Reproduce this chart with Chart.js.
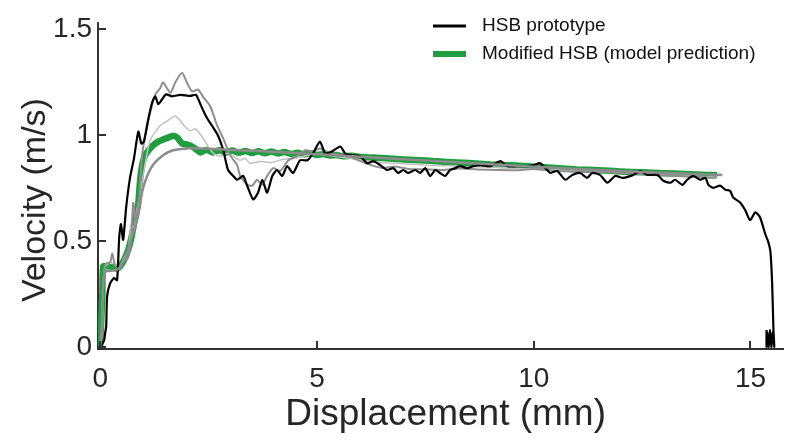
<!DOCTYPE html>
<html>
<head>
<meta charset="utf-8">
<script src="https://cdn.jsdelivr.net/npm/chart.js@4.4.1/dist/chart.umd.min.js"></script>
<style>
  html, body { margin: 0; padding: 0; background: #fff; }
</style>
</head>
<body>
<canvas id="velocity" width="785" height="440"></canvas>
<script>
// axis ticks
const xTicks = [0, 5, 10, 15]
const xTickLabels = ['0', '5', '10', '15']
const yTicks = [0, 0.5, 1, 1.5]
const yTickLabels = ['0', '0.5', '1', '1.5']

// [displacement (mm), velocity (m/s)]
const hsbPrototype = [[0,0],[0.09,0.03],[0.115,0.065],[0.14,0.1],[0.16,0.24],[0.23,0.30],[0.32,0.325],[0.39,0.315],[0.44,0.52],[0.48,0.58],[0.53,0.505],[0.60,0.66],[0.69,0.80],[0.78,0.89],[0.88,1.016],[0.95,0.96],[1.01,0.97],[1.11,1.076],[1.20,1.155],[1.27,1.183],[1.34,1.146],[1.43,1.169],[1.52,1.192],[1.66,1.183],[1.85,1.19],[2.08,1.185],[2.21,1.19],[2.31,1.146],[2.45,1.085],[2.58,1.044],[2.72,0.997],[2.84,0.928],[2.95,0.835],[3.07,0.807],[3.16,0.789],[3.30,0.807],[3.39,0.761],[3.53,0.696],[3.64,0.728],[3.74,0.789],[3.85,0.728],[3.97,0.807],[4.08,0.835],[4.20,0.807],[4.31,0.853],[4.45,0.821],[4.61,0.881],[4.78,0.881],[4.91,0.914],[5.07,0.969],[5.19,0.914],[5.35,0.923],[5.54,0.946],[5.65,0.914],[5.81,0.904],[6.00,0.90],[6.16,0.867],[6.30,0.877],[6.46,0.858],[6.62,0.835],[6.76,0.844],[6.87,0.821],[6.99,0.835],[7.10,0.821],[7.27,0.835],[7.38,0.821],[7.50,0.844],[7.61,0.807],[7.73,0.835],[7.84,0.821],[7.96,0.807],[8.07,0.835],[8.19,0.844],[8.30,0.853],[8.47,0.844],[8.60,0.853],[8.77,0.858],[9.00,0.853],[9.23,0.877],[9.39,0.853],[9.62,0.853],[9.85,0.853],[9.99,0.858],[10.15,0.867],[10.31,0.835],[10.38,0.821],[10.54,0.830],[10.73,0.789],[10.89,0.812],[11.07,0.821],[11.23,0.798],[11.35,0.821],[11.53,0.812],[11.70,0.775],[11.88,0.807],[12.06,0.798],[12.30,0.812],[12.46,0.830],[12.62,0.812],[12.85,0.812],[12.99,0.784],[13.15,0.775],[13.26,0.789],[13.43,0.765],[13.54,0.789],[13.68,0.807],[13.84,0.789],[13.96,0.798],[14.03,0.765],[14.14,0.751],[14.30,0.761],[14.42,0.742],[14.53,0.737],[14.60,0.705],[14.76,0.682],[14.88,0.645],[14.99,0.598],[15.11,0.635],[15.22,0.612],[15.34,0.533],[15.41,0.496],[15.46,0.45],[15.50,0.297],[15.53,0.079],[15.55,0],[15.51,0.07],[15.48,0],[15.45,0.08],[15.42,0],[15.39,0.07],[15.37,0],[15.37,0.08]]
const prototypeRun2 = [[0,0],[0.05,0.06],[0.06,0.26],[0.12,0.39],[0.23,0.40],[0.28,0.44],[0.35,0.38],[0.46,0.37],[0.53,0.40],[0.64,0.42],[0.72,0.52],[0.76,0.68],[0.82,0.6],[0.9,0.7],[0.97,0.91],[1.11,1.067],[1.27,1.19],[1.38,1.22],[1.45,1.248],[1.62,1.2],[1.73,1.248],[1.89,1.294],[2.0,1.248],[2.12,1.206],[2.26,1.215],[2.38,1.178],[2.54,1.136],[2.70,1.044],[2.84,0.983],[3.0,0.904],[3.16,0.858],[3.23,0.807],[3.39,0.765],[3.51,0.761],[3.62,0.789],[3.74,0.765],[3.85,0.807],[3.99,0.844],[4.15,0.83],[4.34,0.881],[4.54,0.9],[4.73,0.928],[4.91,0.923],[5.07,0.937],[5.3,0.915],[5.6,0.905],[5.8,0.895],[6.0,0.877],[6.25,0.858],[6.5,0.845],[6.8,0.852],[7.1,0.84],[7.5,0.838],[7.9,0.835],[8.3,0.842],[8.7,0.838],[9.2,0.835],[9.6,0.834],[10.0,0.84],[10.5,0.832],[11.0,0.828],[11.5,0.826],[12.0,0.822],[12.5,0.815],[13.0,0.81],[13.5,0.806],[14.0,0.8],[14.2,0.798]]
const prototypeRun3 = [[0,0],[0.05,0.1],[0.07,0.3],[0.12,0.38],[0.25,0.4],[0.35,0.39],[0.45,0.38],[0.55,0.42],[0.65,0.46],[0.72,0.58],[0.78,0.56],[0.85,0.65],[0.92,0.72],[0.99,0.807],[1.15,0.974],[1.38,1.044],[1.55,1.067],[1.73,1.09],[1.85,1.067],[1.96,1.039],[2.08,1.02],[2.19,1.03],[2.35,0.993],[2.49,0.946],[2.61,0.914],[2.77,0.9],[2.93,0.914],[3.07,0.9],[3.23,0.881],[3.34,0.89],[3.46,0.867],[3.7,0.875],[3.95,0.87],[4.2,0.885],[4.5,0.89],[4.8,0.905],[5.1,0.91],[5.4,0.9],[5.8,0.89],[6.2,0.875],[6.6,0.868],[7.0,0.865],[7.5,0.858],[8.0,0.855],[8.5,0.85],[9.0,0.849],[9.5,0.845],[10.0,0.84],[10.5,0.836],[11.0,0.83],[11.5,0.828],[12.0,0.822],[12.5,0.818],[13.0,0.812],[13.5,0.809],[14.0,0.803],[14.25,0.8]]
const hsbFit = [[0,0],[0.04,0.1],[0.07,0.3],[0.12,0.355],[0.3,0.36],[0.4,0.365],[0.5,0.39],[0.6,0.43],[0.7,0.5],[0.78,0.55],[0.85,0.6],[0.92,0.68],[0.99,0.75],[1.1,0.815],[1.22,0.86],[1.45,0.905],[1.68,0.928],[2.0,0.937],[2.5,0.935],[3.0,0.93],[4.0,0.921],[5.0,0.91],[6.0,0.898],[7.0,0.886],[8.0,0.874],[9.0,0.862],[10.0,0.851],[11.0,0.84],[12.0,0.83],[13.0,0.822],[14.0,0.814],[14.35,0.812]]
const modifiedHsb = [[0,0],[0.05,0.25],[0.07,0.38],[0.18,0.38],[0.30,0.375],[0.39,0.37],[0.46,0.38],[0.55,0.41],[0.65,0.46],[0.72,0.515],[0.78,0.58],[0.83,0.625],[0.88,0.68],[0.92,0.785],[0.97,0.86],[1.04,0.905],[1.13,0.932],[1.22,0.951],[1.34,0.969],[1.45,0.979],[1.57,0.988],[1.68,0.997],[1.78,0.988],[1.89,0.96],[2.01,0.955],[2.12,0.946],[2.24,0.928],[2.31,0.918],[2.45,0.93],[2.6,0.918],[2.75,0.928],[2.9,0.917],[3.05,0.927],[3.2,0.916],[3.35,0.925],[3.5,0.915],[3.65,0.923],[3.8,0.914],[3.95,0.922],[4.1,0.913],[4.25,0.92],[4.4,0.911],[4.55,0.917],[4.7,0.909],[4.85,0.914],[5.0,0.906],[5.15,0.91],[5.3,0.903],[5.45,0.906],[5.6,0.9],[5.8,0.902],[6.0,0.897],[6.5,0.892],[7.0,0.885],[7.5,0.88],[8.0,0.873],[8.5,0.868],[9.0,0.861],[9.5,0.857],[10.0,0.85],[10.5,0.845],[11.0,0.838],[11.5,0.834],[12.0,0.828],[12.5,0.824],[13.0,0.82],[13.5,0.816],[14.0,0.812],[14.23,0.81]]

const axisColor = '#333333'
const textColor = '#262626'
Chart.defaults.font.family = "'Liberation Sans', Arial, sans-serif"

function series(label, pts, color, width, order) {
    return {
        label: label,
        data: pts.map(p => ({ x: p[0], y: p[1] })),
        borderColor: color,
        borderWidth: width,
        pointRadius: 0,
        tension: 0.2,
        fill: false,
        order: order
    }
}

// ticks pointing into the plot, like the original figure
const innerTicks = {
    id: 'innerTicks',
    afterDraw(chart) {
        const ctx = chart.ctx
        const xs = chart.scales.x, ys = chart.scales.y
        const area = chart.chartArea
        ctx.save()
        ctx.strokeStyle = axisColor
        ctx.lineWidth = 2
        ctx.beginPath()
        xTicks.forEach(v => {
            const px = Math.round(xs.getPixelForValue(v))
            ctx.moveTo(px, area.bottom)
            ctx.lineTo(px, area.bottom - 8)
        })
        yTicks.forEach(v => {
            const py = Math.round(ys.getPixelForValue(v))
            ctx.moveTo(area.left, py)
            ctx.lineTo(area.left + 8, py)
        })
        ctx.stroke()
        ctx.restore()
    }
}

// two-entry legend in the top right corner, no frame
const cornerLegend = {
    id: 'cornerLegend',
    afterDraw(chart) {
        const ctx = chart.ctx
        const items = [
            { text: 'HSB prototype', color: '#000000', width: 3, y: 26 },
            { text: 'Modified HSB (model prediction)', color: '#1e9e3e', width: 6, y: 54 }
        ]
        ctx.save()
        ctx.font = "19px 'Liberation Sans', Arial, sans-serif"
        ctx.textBaseline = 'middle'
        ctx.fillStyle = '#111111'
        items.forEach(it => {
            ctx.strokeStyle = it.color
            ctx.lineWidth = it.width
            ctx.beginPath()
            ctx.moveTo(433, it.y)
            ctx.lineTo(466, it.y)
            ctx.stroke()
            ctx.fillText(it.text, 482, it.y)
        })
        ctx.restore()
    }
}

new Chart(document.getElementById('velocity'), {
    type: 'line',
    data: {
        datasets: [
            series('Model fit', hsbFit, '#8c8c8c', 2.5, 0),
            series('HSB prototype', hsbPrototype, '#000000', 2.2, 1),
            series('Prototype run 2', prototypeRun2, '#8e8e8e', 2, 2),
            series('Prototype run 3', prototypeRun3, '#c2c2c2', 1.5, 3),
            series('Modified HSB (model prediction)', modifiedHsb, '#1e9e3e', 6.5, 4)
        ]
    },
    options: {
        responsive: false,
        animation: false,
        devicePixelRatio: 1,
        layout: { padding: { top: 17, right: 2, left: 0, bottom: 0 } },
        plugins: { legend: { display: false }, tooltip: { enabled: false } },
        scales: {
            x: {
                type: 'linear',
                min: -0.05,
                max: 15.75,
                afterBuildTicks: s => { s.ticks = xTicks.map(v => ({ value: v })) },
                afterFit: s => { s.height = 91 },
                ticks: {
                    callback: v => xTickLabels[xTicks.indexOf(v)],
                    font: { size: 28 },
                    color: textColor,
                    padding: 13,
                    maxRotation: 0,
                    autoSkip: false
                },
                grid: { display: false, drawTicks: false },
                border: { display: true, color: axisColor, width: 2 },
                title: {
                    display: true,
                    // leading space nudges the centred title right, as in the figure
                    text: '\u00a0Displacement (mm)',
                    font: { size: 37 },
                    color: textColor,
                    padding: { top: 0, bottom: 3 }
                }
            },
            y: {
                min: -0.01,
                max: 1.53,
                afterBuildTicks: s => { s.ticks = yTicks.map(v => ({ value: v })) },
                afterFit: s => { s.width = 98 },
                ticks: {
                    callback: v => yTickLabels[yTicks.indexOf(v)],
                    font: { size: 28 },
                    color: textColor,
                    padding: 6
                },
                grid: { display: false, drawTicks: false },
                border: { display: true, color: axisColor, width: 2 },
                title: {
                    display: true,
                    // trailing spaces push the rotated title down a little
                    text: 'Velocity (m/s)\u00a0\u00a0\u00a0',
                    font: { size: 34 },
                    color: textColor,
                    padding: { top: 15, bottom: 0 }
                }
            }
        }
    },
    plugins: [innerTicks, cornerLegend]
});
</script>
</body>
</html>
